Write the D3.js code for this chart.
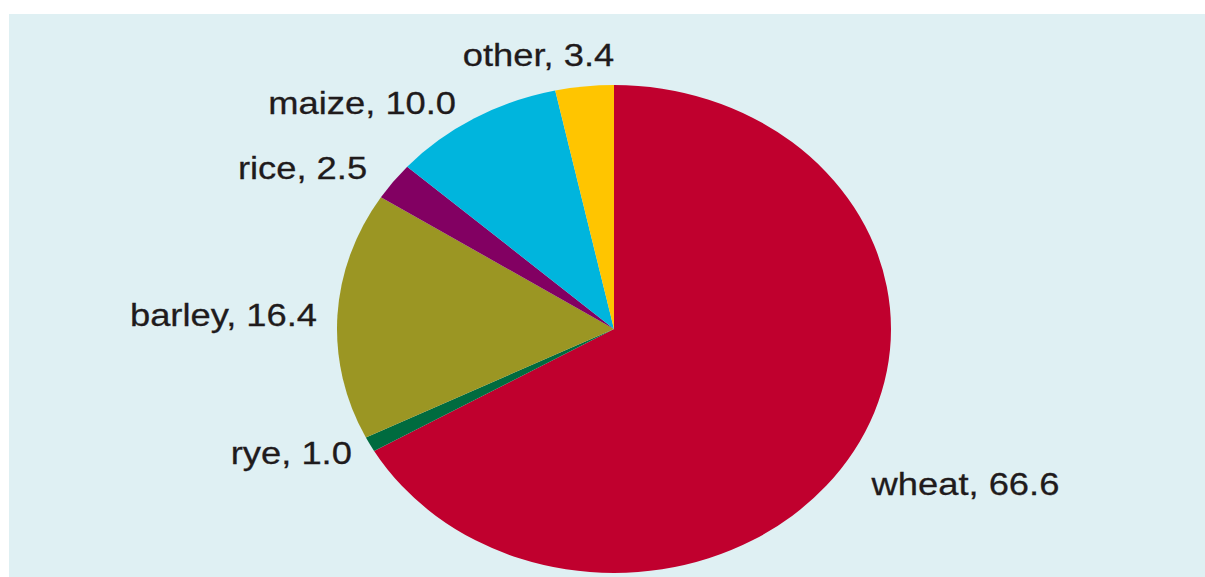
<!DOCTYPE html>
<html>
<head>
<meta charset="utf-8">
<script src="https://cdn.jsdelivr.net/npm/d3@7"></script>
<style>
  body { margin: 0; background: #ffffff; }
  svg { display: block; }
  .label { font-family: "Liberation Sans", Arial, sans-serif; font-size: 32px; fill: #1f1b1c; stroke: #1f1b1c; stroke-width: 0.3px; }
</style>
</head>
<body>
<svg id="pie" width="1205" height="577"></svg>
<script>
// cereal shares, clockwise from 12 o'clock
var crops = ["wheat", "rye", "barley", "rice", "maize", "other"];
var shares = [66.6, 1.0, 16.4, 2.5, 10.0, 3.4];
var colours = ["#c0002e", "#006b3f", "#9b9623", "#820062", "#00b5dd", "#ffc500"];

var svg = d3.select("svg#pie"),
    width = +svg.attr("width"),
    height = +svg.attr("height");

// light blue panel
svg.append("rect")
    .attr("x", 9)
    .attr("y", 14)
    .attr("width", width - 9)
    .attr("height", height - 14)
    .attr("fill", "#dff0f3");

var cx = 614, cy = 329,
    ry = 244, rx = 277,
    sx = rx / ry;

// small hand nudges so labels sit where the original put them (screen px)
var nudge = {
    wheat: [0, 24],
    other: [32, -14],
    maize: [-8, 0],
    rice: [-10, -3]
};

var data = crops.map(function(c, i) {
    return { crop: c, value: shares[i] };
});

var colour = d3.scaleOrdinal()
    .domain(crops)
    .range(colours);

var pie = d3.pie()
    .sort(null)
    .value(function(d) { return d.value; });

var arc = d3.arc()
    .innerRadius(0)
    .outerRadius(ry);

var labelArc = d3.arc()
    .innerRadius(262)
    .outerRadius(262);

// the original is stretched sideways, so draw a circle and scale x
var g = svg.append("g")
    .attr("transform", "translate(" + cx + "," + cy + ") scale(" + sx + ",1)");

var arcs = pie(data);

g.selectAll("path")
    .data(arcs)
    .enter()
    .append("path")
        .attr("d", arc)
        .attr("fill", function(d) { return colour(d.data.crop); });

g.selectAll("text")
    .data(arcs)
    .enter()
    .append("text")
        .attr("class", "label")
        .attr("transform", function(d) {
            var c = labelArc.centroid(d),
                n = nudge[d.data.crop] || [0, 0];
            return "translate(" + (c[0] + n[0] / sx) + "," + (c[1] + n[1]) + ")";
        })
        .attr("dy", "0.35em")
        .attr("text-anchor", function(d) {
            return labelArc.centroid(d)[0] < 0 ? "end" : "start";
        })
        .text(function(d) { return d.data.crop + ", " + d3.format(".1f")(d.data.value); });
</script>
</body>
</html>
